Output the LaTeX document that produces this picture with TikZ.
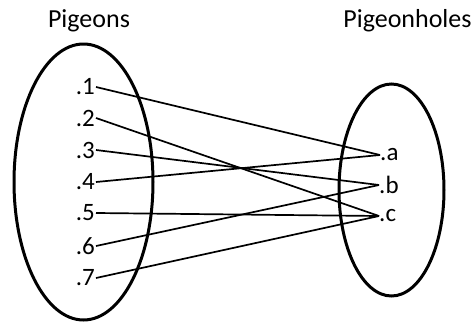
\documentclass[tikz,border=0pt]{standalone}
\usepackage{fontspec}
\setmainfont{Carlito}
\begin{document}
\begin{tikzpicture}[x=1pt,y=-1pt,
  setline/.style={line width=3pt},
  conn/.style={line width=1.7pt},
  lbl/.style={inner sep=0pt,font=\fontsize{25}{28}\selectfont},
  head/.style={inner sep=0pt,anchor=base,font=\fontsize{26}{30}\selectfont}]
\useasboundingbox (0,0) rectangle (475,322);
\node[head] (hp) at (89,27) {Pigeons};
\node[head] (hh) at (407.5,27) {Pigeonholes};
\draw[setline] (83.5,182) ellipse [x radius=69.5, y radius=138];
\draw[setline] (391.5,190) ellipse [x radius=52.5, y radius=106];
\node[lbl,anchor=east] (p1) at (95,87) {.1};
\node[lbl,anchor=east] (p2) at (95,118) {.2};
\node[lbl,anchor=east] (p3) at (95,150) {.3};
\node[lbl,anchor=east] (p4) at (95,182) {.4};
\node[lbl,anchor=east] (p5) at (95,213) {.5};
\node[lbl,anchor=east] (p6) at (95,246) {.6};
\node[lbl,anchor=east] (p7) at (95,278) {.7};
\node[lbl,anchor=west] (a) at (380,155) {.a};
\node[lbl,anchor=west] (b) at (379,185) {.b};
\node[lbl,anchor=west] (c) at (379,216) {.c};
\draw[conn] ([xshift=1pt]p1.east) -- (a.west);
\draw[conn] ([xshift=1pt]p2.east) -- (c.west);
\draw[conn] ([xshift=1pt]p3.east) -- (b.west);
\draw[conn] ([xshift=1pt]p4.east) -- (a.west);
\draw[conn] ([xshift=1pt]p5.east) -- (c.west);
\draw[conn] ([xshift=1pt]p6.east) -- (b.west);
\draw[conn] ([xshift=1pt]p7.east) -- (c.west);
\end{tikzpicture}
\end{document}
